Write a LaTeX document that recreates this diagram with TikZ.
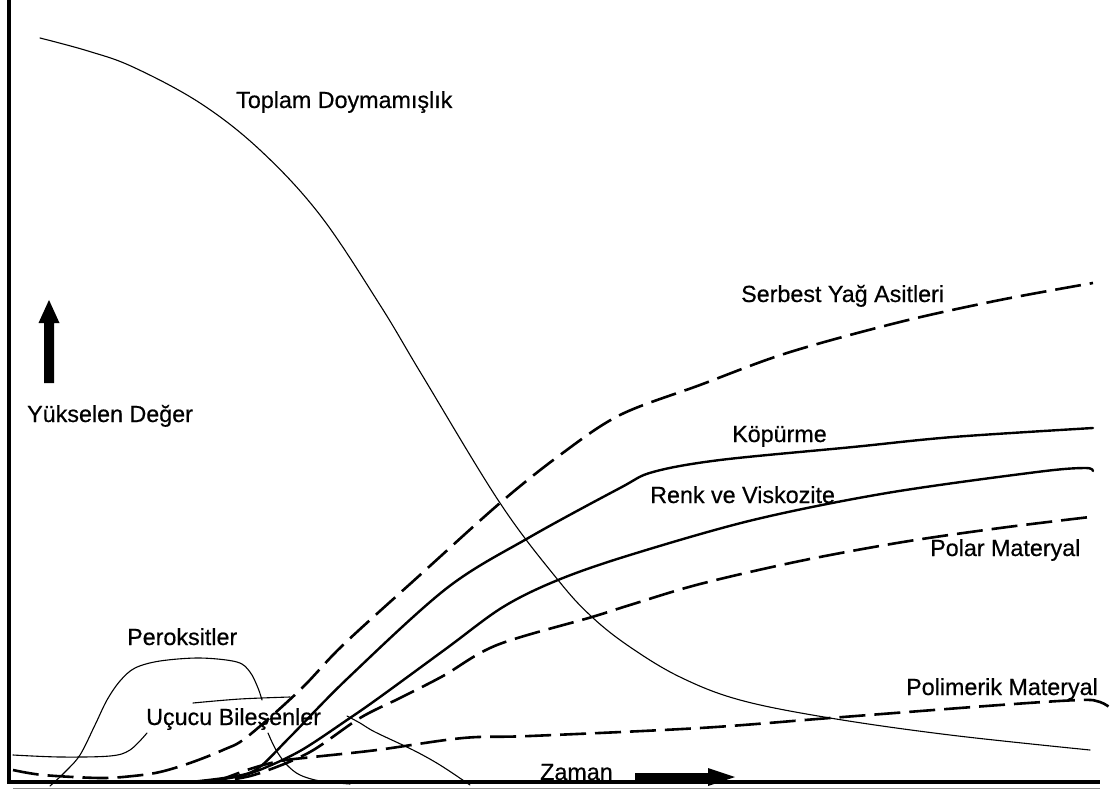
\documentclass[tikz,border=0pt]{standalone}
\usepackage{fontspec}
\setmainfont{Liberation Sans}
\newfontfamily\lblfont{Liberation Sans}[FakeBold=0.5]
\begin{document}
\begin{tikzpicture}[x=1pt,y=-1pt,
  lbl/.style={anchor=base west, inner sep=0pt, font=\lblfont\fontsize{23.3}{27}\selectfont, text=black},
  thinline/.style={line width=1.1pt, line join=round, line cap=round},
  thickline/.style={line width=2.4pt, line join=round, line cap=round},
  dashline/.style={line width=2.6pt, dash pattern=on 26pt off 9pt},
  axis/.style={line width=3.5pt},
]
\useasboundingbox (0,0) rectangle (1118,791);
\fill[white] (0,0) rectangle (1118,791);

% axes
\draw[axis] (9,0) -- (9,783.75);
\draw[axis] (7.25,782) -- (1100,782);
\draw[line width=1.2pt, black!45] (13,788.5) -- (1100,788.5);

% Toplam Doymamislik
\draw[thinline] plot[smooth, tension=0.6] coordinates {(40,38) (88,51) (133,67) (200,103) (260,150) (320,215) (380,305) (422,375) (500,503) (558,580) (592,617) (630,647) (680,677) (740,700) (830,718) (950,735) (1090,750)};

% Serbest Yag Asitleri
\draw[dashline] plot[smooth, tension=0.55] coordinates {(13,770) (43,775) (100,778) (133,776) (160,772) (190,763) (223,750) (247,737) (300,690) (343,645) (420,575) (500,503) (560,455) (620,415) (700,385) (787,353) (900,322) (1000,300) (1093,283)};

% Kopurme
\draw[thickline] plot[smooth, tension=0.55] coordinates {(190,782) (230,777) (257,769) (290,737) (348,678) (447,588) (530,537) (620,488) (653,472) (720,460) (853,447) (953,437) (1093,428)};

% Renk ve Viskozite
\draw[thickline] plot[smooth, tension=0.55] coordinates {(195,782) (230,778) (257,771) (300,751) (347,720) (380,697) (447,648) (503,607) (558,580) (630,555) (753,520) (887,493) (1037,472) (1085,468) (1093,471)};

% Polar Materyal
\draw[dashline] plot[smooth, tension=0.55] coordinates {(200,782) (235,779) (263,772) (310,752) (360,718) (400,698) (443,676) (497,645) (592,617) (630,605) (700,584) (800,561) (903,542) (1000,528) (1090,517)};

% Polimerik Materyal
\draw[dashline] plot[smooth, tension=0.55] coordinates {(215,782) (250,769) (280,761) (313,757) (377,750) (463,738) (530,736) (700,728) (830,718) (1000,705) (1080,700) (1100,702) (1112,709)};

% Peroksitler
\draw[thinline] plot[smooth, tension=0.55] coordinates {(50,786) (65,772) (80,755) (95,725) (107,700) (120,681) (135,668) (160,661) (200,658) (237,662) (250,672) (258,688) (262,700)};
\draw[thinline] plot[smooth, tension=0.55] coordinates {(268,733) (276,750) (287,765) (300,775) (320,781) (350,784)};

% Ucucu Bilesenler
\draw[thinline] plot[smooth, tension=0.55] coordinates {(13,755) (60,757) (110,756) (130,750) (147,733)};
\draw[thinline] plot[smooth, tension=0.55] coordinates {(193,703) (240,699) (290,697)};
\draw[thinline] plot[smooth, tension=0.55] coordinates {(347,716) (360,723) (375,732) (413,750) (440,765) (470,785)};

% arrows
\fill (44,383) -- (44,323) -- (38.5,323) -- (49,300) -- (59.5,323) -- (54,323) -- (54,383) -- cycle;
\fill (635,773) -- (708,773) -- (708,768) -- (735,777) -- (708,786) -- (708,782) -- (635,782) -- cycle;

% labels
\node[lbl] (toplam) at (236,108) {Toplam Doymamışlık};
\node[lbl] (serbest) at (741,302) {Serbest Yağ Asitleri};
\node[lbl] (kopurme) at (732,442) {Köpürme};
\node[lbl] (renk) at (650,503) {Renk ve Viskozite};
\node[lbl] (polar) at (930,556) {Polar Materyal};
\node[lbl] (polimerik) at (906,695) {Polimerik Materyal};
\node[lbl] (peroksit) at (127,645) {Peroksitler};
\node[lbl] (ucucu) at (146,725) {Uçucu Bileşenler};
\node[lbl] (zaman) at (540,780) {Zaman};
\node[lbl] (yuksel) at (27,422) {Yükselen Değer};
\end{tikzpicture}
\end{document}
